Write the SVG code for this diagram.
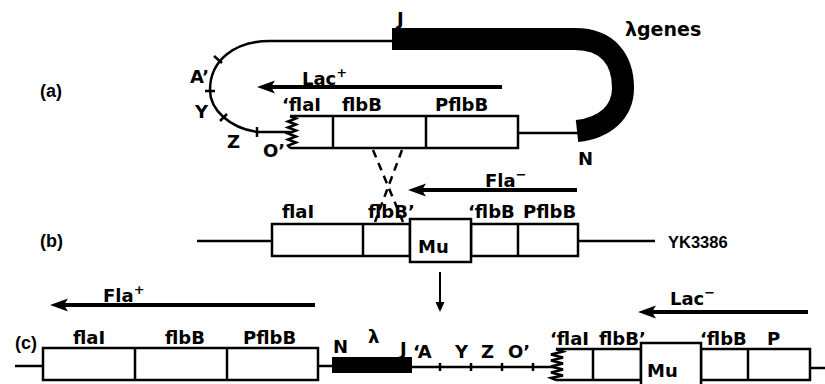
<svg xmlns="http://www.w3.org/2000/svg" width="825" height="384" viewBox="0 0 825 384">
<defs>
<style>
text{font-family:"DejaVu Sans","Liberation Sans",sans-serif;font-weight:bold;font-size:18px;fill:#000}
.lab{font-family:"Liberation Sans","DejaVu Sans",sans-serif;font-size:18px}
.yk{font-family:"Liberation Sans","DejaVu Sans",sans-serif;font-size:16.5px}
.sup{font-size:13px}
.ln{fill:none;stroke:#000;stroke-width:2.5}
.box{fill:#fff;stroke:#000;stroke-width:2.5}
.arr{fill:none;stroke:#000;stroke-width:4;marker-end:url(#ah)}
.darr{fill:none;stroke:#000;stroke-width:2;marker-end:url(#ahs)}
.dash{fill:none;stroke:#000;stroke-width:2.5;stroke-dasharray:8 6}
.band{fill:none;stroke:#000;stroke-width:22;stroke-linecap:butt}
</style>
<marker id="ah" markerUnits="userSpaceOnUse" markerWidth="20" markerHeight="16" refX="6" refY="0" viewBox="0 -8 20 16" orient="auto" overflow="visible">
<path d="M0,-6.5 L18,0 L0,6.5 L4,0 z" fill="#000"/>
</marker>
<marker id="ahs" markerUnits="userSpaceOnUse" markerWidth="12" markerHeight="10" refX="2" refY="0" viewBox="0 -5 12 10" orient="auto" overflow="visible">
<path d="M0,-4.5 L10,0 L0,4.5 z" fill="#000"/>
</marker>
</defs>
<rect width="825" height="384" fill="#fff"/>

<!-- (a) -->
<g id="label-a"><text x="40" y="97" class="lab">(a)</text></g>
<g id="loop-a">
<path class="ln" d="M290,132 L257,132 C230,128 210,110 210,90 C210,60 235,41 270,41 L394,41"/>
<path class="ln" d="M214,56 L222,63 M205,91 L215,91 M220,121 L227,114 M257,127 L257,137"/>
<path class="ln" d="M518,133 L578,133"/>
<text x="190" y="83">A’</text>
<text x="195" y="118">Y</text>
<text x="227" y="148">Z</text>
<text x="263" y="157">O’</text>
</g>
<g id="lambda-a">
<path class="band" d="M392,39 L575,39 C608,39 623,60 623,88 C623,112 605,128 577,131"/>
<text x="397" y="25">J</text>
<text x="625" y="36" style="font-size:19px">λgenes</text>
<text x="578" y="165">N</text>
</g>
<g id="box-a">
<path class="box" d="M290,116 L518,116 L518,148 L290,148"/>
<path class="ln" d="M333,116 L333,148 M426,116 L426,148"/>
<path class="ln" d="M290,116 L296,118.5 L288,121.5 L296,124.5 L288,127.5 L296,130.5 L288,133.5 L296,136.5 L288,139.5 L296,142.5 L288,145.5 L290,148"/>
<text x="282" y="111">‘flaI</text>
<text x="342" y="111">flbB</text>
<text x="435" y="111">PflbB</text>
</g>

<!-- (b) -->
<g id="label-b"><text x="40" y="247" class="lab">(b)</text></g>
<g id="box-b">
<path class="ln" d="M197,241 L272,241 M578,241 L655,241"/>
<rect class="box" x="272" y="224" width="138" height="32"/>
<path class="ln" d="M363,224 L363,256"/>
<rect class="box" x="471" y="224" width="107" height="32"/>
<path class="ln" d="M518,224 L518,256"/>
<rect class="box" x="410" y="219" width="61" height="43"/>
<text x="418" y="253">Mu</text>
<text x="282" y="218">flaI</text>
<text x="368" y="218">flbB’</text>
<text x="468" y="218">‘flbB</text>
<text x="523" y="218">PflbB</text>
<text x="668" y="248" class="yk">YK3386</text>
</g>

<!-- (c) -->
<g id="label-c"><text x="15" y="349" class="lab">(c)</text></g>
<g id="box-c-left">
<path class="ln" d="M15,366 L43,366 M318,366 L334,366"/>
<rect class="box" x="43" y="348" width="275" height="32"/>
<path class="ln" d="M135,348 L135,380 M227,348 L227,380"/>
<text x="73" y="344">flaI</text>
<text x="165" y="344">flbB</text>
<text x="243" y="344">PflbB</text>
</g>
<g id="lambda-c">
<rect x="332" y="357" width="80" height="16" fill="#000"/>
<path class="ln" d="M412,367 L555,367"/>
<path class="ln" d="M440,363 L440,371 M471,363 L471,371 M502,363 L502,371 M533,363 L533,371"/>
<text x="333" y="353">N</text>
<text x="368" y="343">λ</text>
<text x="400" y="355">J</text>
<text x="413" y="358">‘A</text>
<text x="455" y="358">Y</text>
<text x="481" y="358">Z</text>
<text x="508" y="358">O’</text>
</g>
<g id="box-c-right">
<path class="ln" d="M810,368 L825,368"/>
<path class="box" d="M556,349 L641,349 L641,380 L556,380"/>
<path class="ln" d="M593,349 L593,380"/>
<path class="ln" d="M556,349 L563,351.5 L551,354.5 L563,357.5 L551,360.5 L563,363.5 L551,366.5 L563,369.5 L551,372.5 L563,375.5 L551,378 L556,380"/>
<rect class="box" x="701" y="349" width="109" height="31"/>
<path class="ln" d="M748,349 L748,380"/>
<rect class="box" x="641" y="343" width="60" height="50"/>
<text x="647" y="377">Mu</text>
<text x="550" y="345">‘flaI</text>
<text x="599" y="345">flbB’</text>
<text x="700" y="345">‘flbB</text>
<text x="767" y="345">P</text>
</g>

<!-- connectors -->
<g id="connectors">
<path class="arr" d="M502,87 L269,87"/>
<text x="302" y="85">Lac<tspan class="sup" dy="-8">+</tspan></text>
<path class="arr" d="M577,190 L420,190"/>
<text x="485" y="187">Fla<tspan class="sup" dy="-8">−</tspan></text>
<path class="dash" d="M373,150 L403,222 M402,150 L375,222"/>
<path class="darr" d="M440,272 L440,304"/>
<path class="arr" d="M315,305 L62,305"/>
<text x="103" y="302">Fla<tspan class="sup" dy="-8">+</tspan></text>
<path class="arr" d="M808,312 L650,312"/>
<text x="670" y="305">Lac<tspan class="sup" dy="-8">−</tspan></text>
</g>
</svg>
